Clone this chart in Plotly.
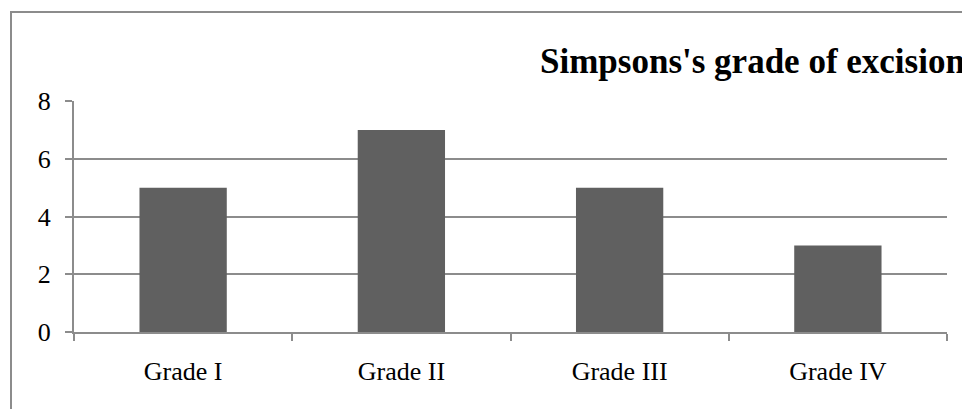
import plotly.graph_objects as go

# Simpson grade of excision: number of cases per grade
grades = ["Grade I", "Grade II", "Grade III", "Grade IV"]
cases = [5, 7, 5, 3]
y_ticks = [0, 2, 4, 6, 8]

W, H = 962, 409
L, R, T, B = 74, 15, 101, 77
plot_w = W - L - R
plot_h = H - T - B

GRAY = "#8c8c8c"
BAR = "#606060"


def px_to_paper_x(px):
    return (px - L) / plot_w


def px_to_paper_y(py):
    return (H - B - py) / plot_h


fig = go.Figure(
    go.Bar(
        x=grades,
        y=cases,
        marker=dict(color=BAR, line=dict(width=0)),
        width=0.4,
    )
)

fig.update_layout(
    width=W,
    height=H,
    margin=dict(l=L, r=R, t=T, b=B, pad=0),
    paper_bgcolor="white",
    plot_bgcolor="white",
    showlegend=False,
    font=dict(family="Liberation Serif", color="black"),
)

fig.update_xaxes(
    type="category",
    showline=True,
    linecolor=GRAY,
    linewidth=2,
    ticks="outside",
    tickson="boundaries",
    ticklen=7,
    tickwidth=2,
    tickcolor=GRAY,
    showgrid=False,
    tickfont=dict(family="Liberation Serif", size=26, color="black"),
    ticklabelstandoff=15,
)

fig.update_yaxes(
    range=[0, 8],
    tickvals=y_ticks,
    ticktext=[str(v) for v in y_ticks],
    showline=True,
    linecolor=GRAY,
    linewidth=2,
    ticks="outside",
    ticklen=7,
    tickwidth=2,
    tickcolor=GRAY,
    showgrid=True,
    gridcolor=GRAY,
    gridwidth=2,
    zeroline=False,
    tickfont=dict(family="Liberation Serif", size=26, color="black"),
    ticklabelstandoff=9,
)

# chart frame (left and top edges fall inside the view)
fig.add_shape(
    type="rect",
    xref="paper",
    yref="paper",
    x0=px_to_paper_x(11),
    x1=px_to_paper_x(W + 40),
    y0=px_to_paper_y(12),
    y1=px_to_paper_y(H + 40),
    line=dict(color=GRAY, width=2),
    fillcolor="rgba(0,0,0,0)",
    layer="below",
)

fig.add_annotation(
    text="<b>Simpsons's grade of excision</b>",
    xref="paper",
    yref="paper",
    x=px_to_paper_x(538),
    y=px_to_paper_y(61),
    xanchor="left",
    yanchor="middle",
    showarrow=False,
    font=dict(family="Liberation Serif", size=35, color="black"),
)

fig.write_html("out.html")
